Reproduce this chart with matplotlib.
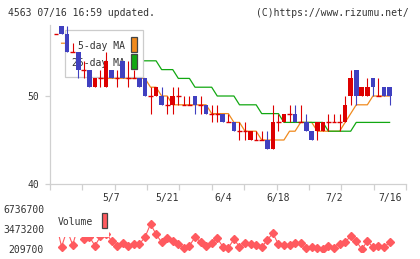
import numpy as np
import matplotlib
matplotlib.use("Agg")
import matplotlib.pyplot as plt
from matplotlib.patches import Rectangle
from matplotlib.transforms import blended_transform_factory

# ---------------- data ----------------
opens  = [57,58,57,55,55,53,53,51,52,51,53,52,54,52,52,52,52,50,50,50,
          49,49,50,49,49,50,49,49,48,48,48,47,47,46,46,45,45,45,45,44,
          47,47,48,48,47,47,46,46,46,47,47,47,47,50,53,50,50,52,50,51,51]
closes = [57,57,55,55,53,53,51,52,52,54,52,52,52,52,52,51,50,50,51,49,
          49,50,50,49,49,49,49,48,48,48,47,47,46,46,46,46,45,45,44,47,
          47,48,48,47,47,46,45,47,47,47,47,47,49,52,50,51,51,51,50,50,50]
highs  = [57,58,58,56,55,54,53,52,53,55,53,53,54,54,53,52,52,51,51,51,
          50,51,51,50,50,50,50,49,49,49,48,48,47,47,47,46,46,46,46,49,
          48,48,49,49,49,48,46,47,47,48,48,48,50,53,53,51,52,52,52,51,51]
lows   = [57,57,55,55,52,52,51,51,51,51,52,51,52,51,52,51,50,48,50,49,
          48,48,49,49,49,48,48,48,47,47,47,47,46,45,45,45,45,45,44,44,
          46,47,47,47,47,46,45,45,46,46,47,46,47,49,49,50,50,50,50,50,49]
ma5 = [np.nan,56,56,55,55,54,53,53,52,52,52,52,52,52,52,52,52,51,51,50,
       50,49,49,49,49,49,49,49,48,48,48,48,47,47,46,46,46,45,45,45,
       45,45,46,46,47,47,47,46,46,46,46,46,47,48,49,49,49,50,50,50,50]
ma25 = [np.nan]*15 + [54,54,54,54,53,53,53,52,52,52,51,51,51,51,50,
       50,50,50,49,49,49,49,48,48,48,48,47,47,47,47,47,47,47,47,46,
       46,46,46,46,47,47,47,47,47,47,47]
volumes = [4500000,590000,3300000,860000,4000000,1790000,2200000,750000,2250000,2700000,
           1560000,750000,1140000,700000,1030000,1030000,2120000,4290000,2610000,1300000,
           1960000,1560000,1030000,420000,750000,2120000,1400000,750000,1140000,1960000,
           590000,420000,1790000,590000,1140000,980000,860000,490000,1680000,2770000,
           980000,860000,860000,1140000,1140000,320000,490000,420000,160000,700000,
           420000,1030000,1300000,2330000,1520000,160000,1520000,490000,750000,490000,
           1300000]
date_pos = [10, 20, 30, 40, 50, 60]
date_labels = ["5/7", "5/21", "6/4", "6/18", "7/2", "7/16"]
price_ticks = [40, 50]
vol_ticks = [209700, 3473200, 6736700]

# ---------------- style ----------------
RED = "#dd0000"
BLUE = "#4040c0"
ORANGE = "#f08a1e"
GREEN = "#12a812"
VOLC = "#ff5a5f"
GRID = "#d0d0d0"
TXT = "#333333"
FONT = "DejaVu Sans Mono"
FS = 7.0
W, H = 420, 259

plt.rcParams['font.family'] = [FONT, 'DejaVu Sans']

fig = plt.figure(figsize=(W / 100, H / 100), dpi=100)

def fx(x):
    return x / W

def fy(y):
    return 1 - y / H

# ---------------- main price axes ----------------
ax = fig.add_axes([fx(50), fy(184), (406 - 50) / W, (184 - 25) / H])
ax.set_xlim(-1.08, 62.95)
ax.set_ylim(40, 58.07)
for s in ["top", "right"]:
    ax.spines[s].set_visible(False)
for s in ["left", "bottom"]:
    ax.spines[s].set_color(GRID)
    ax.spines[s].set_linewidth(0.9)

ax.set_xticks(np.linspace(-1.08, 62.95, 12))
ax.set_xticklabels([])
ax.tick_params(axis="x", length=4.3, width=0.9, color=GRID, direction="out")
ax.set_yticks(price_ticks)
ax.set_yticklabels([str(t) for t in price_ticks], fontsize=FS, color=TXT)
ax.tick_params(axis="y", length=3.6, width=0.9, color=GRID, pad=4.3)

idx = np.arange(len(opens))
ax.plot(idx, ma5, color=ORANGE, lw=0.9, zorder=2)
ax.plot(idx, ma25, color=GREEN, lw=0.9, zorder=2)

# legend box (opaque, under candles)
ax.add_patch(Rectangle((fx(65.3), fy(77.3)), fx(143.3) - fx(65.3), fy(30) - fy(77.3),
                       transform=fig.transFigure, facecolor="white", edgecolor="#cccccc",
                       lw=0.9, zorder=3))
ax.text(fx(124.5), fy(46), "5-day MA", transform=fig.transFigure, ha="right", va="center",
        fontsize=FS, color=TXT, zorder=3.5)
ax.text(fx(124.5), fy(63), "25-day MA", transform=fig.transFigure, ha="right", va="center",
        fontsize=FS, color=TXT, zorder=3.5)
ax.add_patch(Rectangle((fx(131.3), fy(52.3)), fx(137.3) - fx(131.3), fy(37.3) - fy(52.3),
                       transform=fig.transFigure, facecolor=ORANGE, edgecolor="#444444",
                       lw=0.9, zorder=3.5))
ax.add_patch(Rectangle((fx(131.3), fy(69.3)), fx(137.3) - fx(131.3), fy(54.3) - fy(69.3),
                       transform=fig.transFigure, facecolor=GREEN, edgecolor="#444444",
                       lw=0.9, zorder=3.5))

# candles
bw = 0.84
for i in idx:
    o, c, h, l = opens[i], closes[i], highs[i], lows[i]
    col = RED if c >= o else BLUE
    if h > l:
        ax.vlines(i, l, h, color=col, lw=0.8, zorder=4)
    if c == o:
        ax.hlines(o, i - bw / 2, i + bw / 2, color=col, lw=1.0, zorder=4)
    else:
        ax.add_patch(Rectangle((i - bw / 2, min(o, c)), bw, abs(c - o),
                               facecolor=col, edgecolor="none", zorder=4))

# date labels
tr = blended_transform_factory(ax.transData, fig.transFigure)
for p, lab in zip(date_pos, date_labels):
    ax.text(p, fy(197.5), lab, transform=tr, ha="center", va="center",
            fontsize=FS, color=TXT, clip_on=False)

# ---------------- volume axes ----------------
vpp = (6736700 - 209700) / 40.0
vax = fig.add_axes([fx(50), fy(252), (406 - 50) / W, (252 - 205) / H])
vax.set_xlim(-1.08, 62.95)
vax.set_ylim(209700 - 3 * vpp, 209700 + 44 * vpp)
for s in vax.spines.values():
    s.set_visible(False)
vax.set_xticks([])
vax.set_yticks(vol_ticks)
vax.set_yticklabels([str(t) for t in vol_ticks], fontsize=FS, color=TXT)
vax.tick_params(axis="y", length=0, pad=4.3)
vax.patch.set_alpha(0)

vax.plot(idx, volumes, color=VOLC, lw=0.8, marker="D", ms=3.6, mec=VOLC, mfc=VOLC, zorder=2)
vax.add_patch(Rectangle((fx(50), fy(237)), fx(108.5) - fx(50), fy(211) - fy(237),
                        transform=fig.transFigure, facecolor="white", edgecolor="none", zorder=3))
vax.text(fx(58), fy(222), "Volume", transform=fig.transFigure, ha="left", va="center",
         fontsize=FS, color=TXT, zorder=4)
vax.add_patch(Rectangle((fx(101.7), fy(228)), fx(107.3) - fx(101.7), fy(213) - fy(228),
                        transform=fig.transFigure, facecolor=VOLC, edgecolor="#444444",
                        lw=0.9, zorder=4))

# ---------------- header texts ----------------
fig.text(fx(8), fy(12.5), "4563 07/16 16:59 updated.", ha="left", va="center",
         fontsize=FS, color=TXT)
fig.text(fx(409), fy(12.5), "(C)https://www.rizumu.net/", ha="right", va="center",
         fontsize=FS, color=TXT)

fig.savefig("out.png", dpi=100)
